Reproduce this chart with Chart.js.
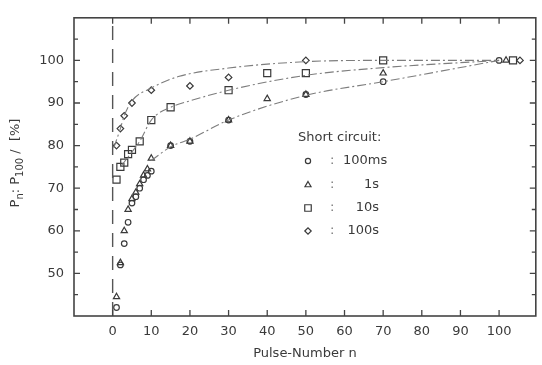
<!DOCTYPE html>
<html>
<head>
<meta charset="utf-8">
<script src="https://cdn.jsdelivr.net/npm/chart.js@4/dist/chart.umd.min.js"></script>
<style>
  html, body { margin: 0; padding: 0; background: #fff; }
  #wrap { width: 542px; height: 365px; position: relative; }
</style>
</head>
<body>
<div id="wrap"><canvas id="pulseChart"></canvas></div>
<script>
// ---- data ----
const xTickValues = [0, 10, 20, 30, 40, 50, 60, 70, 80, 90, 100];
const yTickValues = [50, 60, 70, 80, 90, 100];
const yMinorValues = [45, 55, 65, 75, 85, 95, 105];

// Short circuit 100ms (circles)
const ms100X = [1, 2, 3, 4, 5, 6, 7, 8, 9, 10, 15, 20, 30, 50, 70, 100];
const ms100Y = [42, 52, 57, 62, 66.5, 68, 70, 72, 73, 74, 80, 81, 86, 92, 95, 100];

// Short circuit 1s (triangles)
const s1X = [1, 2, 3, 4, 5, 6, 7, 8, 9, 10, 15, 20, 30, 40, 50, 70, 101.8];
const s1Y = [44.5, 52.5, 60, 65, 67.5, 69, 71, 73, 74.5, 77, 80, 81, 86, 91, 92, 97, 100];

// Short circuit 10s (squares)
const s10X = [1, 2, 3, 4, 5, 7, 10, 15, 30, 40, 50, 70, 103.6];
const s10Y = [72, 75, 76, 78, 79, 81, 86, 89, 93, 97, 97, 100, 100];

// Short circuit 100s (diamonds)
const s100X = [1, 2, 3, 5, 10, 20, 30, 50, 105.4];
const s100Y = [80, 84, 87, 90, 93, 94, 96, 100, 100];

// hand-drawn guide curves
const fitTopX = [0.3, 2, 3, 5, 10, 17, 30, 50, 70, 100];
const fitTopY = [79.5, 84, 87, 90.5, 93.5, 96.2, 98.2, 99.7, 100, 100];
const fitMidX = [2, 5, 7, 10, 15, 20, 30, 50, 70, 100];
const fitMidY = [75, 78.5, 81, 86, 89, 90.5, 93, 96.5, 98.3, 100];
const fitLowX = [10, 15, 20, 30, 50, 70, 100];
const fitLowY = [76.5, 79.7, 81.5, 86, 91.8, 95, 100];

// dashed marker line at n = 0
const zeroLineX = [0, 0];
const zeroLineY = [40, 110];

const legendTitle = 'Short circuit:';
const legendLabels = ['100ms', '1s', '10s', '100s'];
const legendStyles = ['circle', 'triangle', 'rect', 'rectRot'];
const legendRadius = [2.6, 3.5, 4.6, 3.2];

const ink = '#3a3a3a';
const curveInk = '#7d7d7d';
const font = '"DejaVu Sans", sans-serif';

const toPoints = (xs, ys) => xs.map((x, i) => ({ x, y: ys[i] }));

function markerSet(label, xs, ys, style, radius) {
  return {
    label,
    data: toPoints(xs, ys),
    pointStyle: style,
    pointRadius: radius,
    pointBorderColor: ink,
    pointBackgroundColor: 'rgba(0,0,0,0)',
    pointBorderWidth: 1.2,
    showLine: false
  };
}

function curveSet(label, xs, ys) {
  return {
    label,
    data: toPoints(xs, ys),
    showLine: true,
    pointRadius: 0,
    borderColor: curveInk,
    borderWidth: 1.1,
    borderDash: [9, 3, 2, 3],
    cubicInterpolationMode: 'monotone',
    fill: false
  };
}

// inward ticks, frame, y title and the text legend
const framePlugin = {
  id: 'frame',
  afterDraw(chart) {
    const { ctx, chartArea: a, scales } = chart;
    const xs = scales.x, ys = scales.y;
    ctx.save();
    ctx.strokeStyle = '#444';
    ctx.lineWidth = 1.6;
    ctx.strokeRect(a.left, a.top, a.right - a.left, a.bottom - a.top);

    ctx.lineWidth = 1.3;
    ctx.beginPath();
    xTickValues.forEach(v => {
      const px = xs.getPixelForValue(v);
      ctx.moveTo(px, a.bottom); ctx.lineTo(px, a.bottom - 6);
      ctx.moveTo(px, a.top); ctx.lineTo(px, a.top + 6);
    });
    yTickValues.forEach(v => {
      const py = ys.getPixelForValue(v);
      ctx.moveTo(a.left, py); ctx.lineTo(a.left + 6, py);
      ctx.moveTo(a.right, py); ctx.lineTo(a.right - 6, py);
    });
    yMinorValues.forEach(v => {
      const py = ys.getPixelForValue(v);
      ctx.moveTo(a.left, py); ctx.lineTo(a.left + 4, py);
      ctx.moveTo(a.right, py); ctx.lineTo(a.right - 4, py);
    });
    ctx.stroke();

    // y axis title with subscripts, rotated
    ctx.fillStyle = ink;
    ctx.translate(16, 163);
    ctx.rotate(-Math.PI / 2);
    const parts = [
      ['P', 0, 13], ['n', 4, 10], [': ', 0, 13], ['P', 0, 13], ['100', 4, 10], [' /  [%]', 0, 13]
    ];
    let total = 0;
    parts.forEach(p => { ctx.font = `${p[2]}px ${font}`; total += ctx.measureText(p[0]).width; });
    let cx = -total / 2;
    ctx.textBaseline = 'middle';
    parts.forEach(p => {
      ctx.font = `${p[2]}px ${font}`;
      ctx.fillText(p[0], cx, p[1]);
      cx += ctx.measureText(p[0]).width;
    });
    ctx.restore();

    // legend block
    ctx.save();
    ctx.fillStyle = ink;
    ctx.font = `13px ${font}`;
    ctx.textBaseline = 'middle';
    ctx.fillText(legendTitle, 298, 138);
    const rowY = [161, 185, 208, 231];
    legendLabels.forEach((lab, i) => {
      ctx.strokeStyle = ink;
      ctx.fillStyle = 'rgba(0,0,0,0)';
      ctx.lineWidth = 1.2;
      Chart.helpers.drawPoint(ctx, { pointStyle: legendStyles[i], radius: legendRadius[i], rotation: 0, borderWidth: 1.2 }, 308, rowY[i]);
      ctx.fillStyle = '#777';
      ctx.textAlign = 'left';
      ctx.fillText(':', 330, rowY[i]);
      ctx.fillStyle = ink;
      if (i === 0) {
        ctx.fillText(lab, 343, rowY[i]);
      } else {
        ctx.textAlign = 'right';
        ctx.fillText(lab, 379, rowY[i]);
      }
    });
    ctx.restore();
  }
};

const ctx = document.getElementById('pulseChart').getContext('2d');
new Chart(ctx, {
  type: 'scatter',
  data: {
    datasets: [
      {
        label: 'n = 0',
        data: toPoints(zeroLineX, zeroLineY),
        showLine: true,
        pointRadius: 0,
        borderColor: '#555',
        borderWidth: 1.4,
        borderDash: [14, 9]
      },
      curveSet('fit 100s', fitTopX, fitTopY),
      curveSet('fit 10s', fitMidX, fitMidY),
      curveSet('fit 100ms/1s', fitLowX, fitLowY),
      markerSet('100ms', ms100X, ms100Y, 'circle', 2.8),
      markerSet('1s', s1X, s1Y, 'triangle', 3.6),
      markerSet('10s', s10X, s10Y, 'rect', 5),
      markerSet('100s', s100X, s100Y, 'rectRot', 3.3)
    ]
  },
  options: {
    responsive: true,
    maintainAspectRatio: false,
    animation: false,
    layout: { padding: { top: 10, right: 1, left: 0, bottom: 0 } },
    plugins: {
      legend: { display: false },
      tooltip: { enabled: false }
    },
    scales: {
      x: {
        type: 'linear',
        min: -10,
        max: 109.5,
        afterBuildTicks: scale => { scale.ticks = xTickValues.map(v => ({ value: v })); },
        afterFit: scale => { scale.height = 49; },
        grid: { display: false, drawTicks: false },
        border: { display: false },
        ticks: { color: ink, font: { family: font, size: 13 }, padding: 8, maxRotation: 0 },
        title: { display: true, text: 'Pulse-Number n', color: ink, font: { family: font, size: 13 }, padding: { top: 4 } }
      },
      y: {
        type: 'linear',
        min: 40,
        max: 110,
        afterBuildTicks: scale => { scale.ticks = yTickValues.map(v => ({ value: v })); },
        afterFit: scale => { scale.width = 74; },
        grid: { display: false, drawTicks: false },
        border: { display: false },
        ticks: { color: ink, font: { family: font, size: 13 }, padding: 10 }
      }
    }
  },
  plugins: [framePlugin]
});
</script>
</body>
</html>
